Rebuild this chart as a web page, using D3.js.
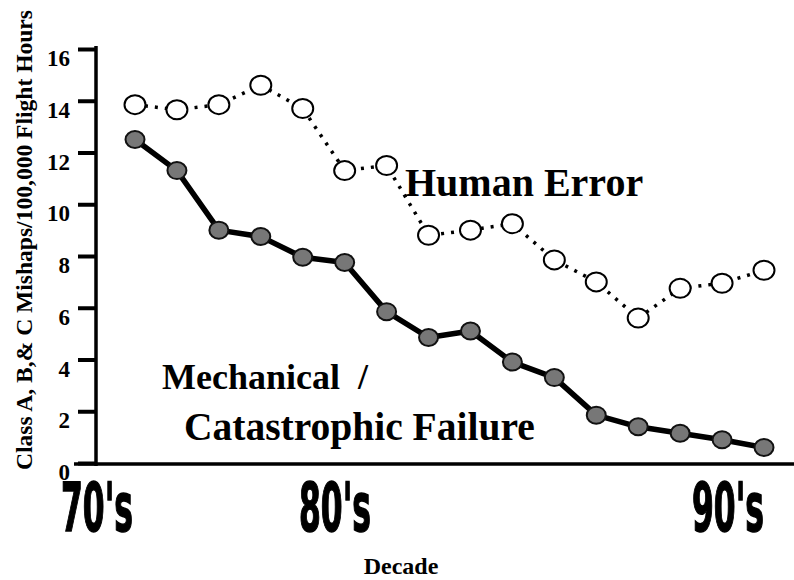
<!DOCTYPE html>
<html>
<head>
<meta charset="utf-8">
<script src="https://cdn.jsdelivr.net/npm/d3@7/dist/d3.min.js"></script>
<style>
  html, body { margin: 0; padding: 0; background: #fff; }
  svg { display: block; }
</style>
</head>
<body>
<svg id="chart" width="794" height="580"></svg>
<script>
// ---- data ----
const periods = [1, 2, 3, 4, 5, 6, 7, 8, 9, 10, 11, 12, 13, 14, 15, 16];
const humanError = [13.85, 13.65, 13.85, 14.6, 13.7, 11.3, 11.5, 8.8, 9.0, 9.25, 7.85, 7.0, 5.6, 6.75, 6.95, 7.45];
const mechanical = [12.5, 11.3, 9.0, 8.75, 7.95, 7.75, 5.85, 4.85, 5.1, 3.9, 3.3, 1.85, 1.4, 1.15, 0.9, 0.6];
const yTicks = [0, 2, 4, 6, 8, 10, 12, 14, 16];
const decades = ["70's", "80's", "90's"];
const yTitle = "Class A, B,& C Mishaps/100,000 Flight Hours";
const xTitle = "Decade";
const humanLabel = "Human Error";
const mechLabel1 = "Mechanical  /";
const mechLabel2 = "Catastrophic Failure";

// ---- layout ----
const svg = d3.select("#chart");
const serif = "'Liberation Serif','Times New Roman',serif";
const x = d3.scalePoint().domain(periods).range([135, 764]);
const y = d3.scaleLinear().domain([0, 16]).range([463, 49]);
const xd = d3.scaleOrdinal().domain(decades).range([97, 335, 728]);

// axes lines
svg.append("line").attr("x1", 96).attr("x2", 96).attr("y1", 46).attr("y2", 466)
  .attr("stroke", "#000").attr("stroke-width", 3.5);
svg.append("line").attr("x1", 74).attr("x2", 794).attr("y1", 464).attr("y2", 464)
  .attr("stroke", "#000").attr("stroke-width", 3.5);

// y axis via d3
const yAxis = d3.axisLeft(y).tickValues(yTicks).tickSize(18).tickPadding(8).tickFormat(d3.format("d"));
const ya = svg.append("g").attr("transform", "translate(96,0)").call(yAxis);
ya.select(".domain").remove();
ya.selectAll(".tick line").attr("stroke", "#000").attr("stroke-width", 4);
ya.selectAll(".tick text")
  .attr("font-family", serif).attr("font-weight", "bold").attr("font-size", 23)
  .attr("fill", "#000").attr("x", -26).attr("dy", "0.72em").attr("y", 0);

// y title
svg.append("text")
  .attr("transform", "translate(32,240) rotate(-90)")
  .attr("text-anchor", "middle")
  .attr("font-family", serif).attr("font-weight", "bold").attr("font-size", 24)
  .attr("textLength", 460).attr("lengthAdjust", "spacingAndGlyphs")
  .text(yTitle);

// decade labels (x axis)
const xa = svg.append("g").attr("transform", "translate(0,531)");
xa.selectAll("text").data(decades).join("text")
  .attr("x", d => xd(d) - 36).attr("y", 0)
  .attr("font-family", "'DejaVu Sans Condensed','Liberation Sans Narrow',sans-serif")
  .attr("font-weight", "bold").attr("font-size", 67).attr("fill", "#000")
  .attr("stroke", "#000").attr("stroke-width", 1.5)
  .attr("textLength", 72).attr("lengthAdjust", "spacingAndGlyphs")
  .text(d => d);

// x title
svg.append("text").attr("x", 401).attr("y", 574).attr("text-anchor", "middle")
  .attr("font-family", serif).attr("font-weight", "bold").attr("font-size", 24)
  .text(xTitle);

// lines
const line = d3.line().x((d, i) => x(periods[i])).y(d => y(d));
svg.append("path").datum(humanError).attr("d", line)
  .attr("fill", "none").attr("stroke", "#000").attr("stroke-width", 3.5)
  .attr("stroke-dasharray", "3 7");
svg.append("path").datum(mechanical).attr("d", line)
  .attr("fill", "none").attr("stroke", "#000").attr("stroke-width", 5.5)
  .attr("stroke-linejoin", "round");

// markers
svg.append("g").selectAll("ellipse").data(humanError).join("ellipse")
  .attr("cx", (d, i) => x(periods[i])).attr("cy", d => y(d))
  .attr("rx", 10.5).attr("ry", 9.5)
  .attr("fill", "#fff").attr("stroke", "#000").attr("stroke-width", 2);
svg.append("g").selectAll("ellipse").data(mechanical).join("ellipse")
  .attr("cx", (d, i) => x(periods[i])).attr("cy", d => y(d))
  .attr("rx", 9.5).attr("ry", 8.5)
  .attr("fill", "#777").attr("stroke", "#111").attr("stroke-width", 2);

// series labels
svg.append("text").attr("x", 405).attr("y", 196)
  .attr("font-family", serif).attr("font-weight", "bold").attr("font-size", 40)
  .text(humanLabel);
svg.append("text").attr("x", 162).attr("y", 389).attr("xml:space", "preserve")
  .attr("font-family", serif).attr("font-weight", "bold").attr("font-size", 36)
  .text(mechLabel1);
svg.append("text").attr("x", 184).attr("y", 440)
  .attr("font-family", serif).attr("font-weight", "bold").attr("font-size", 39.5)
  .text(mechLabel2);
</script>
</body>
</html>
